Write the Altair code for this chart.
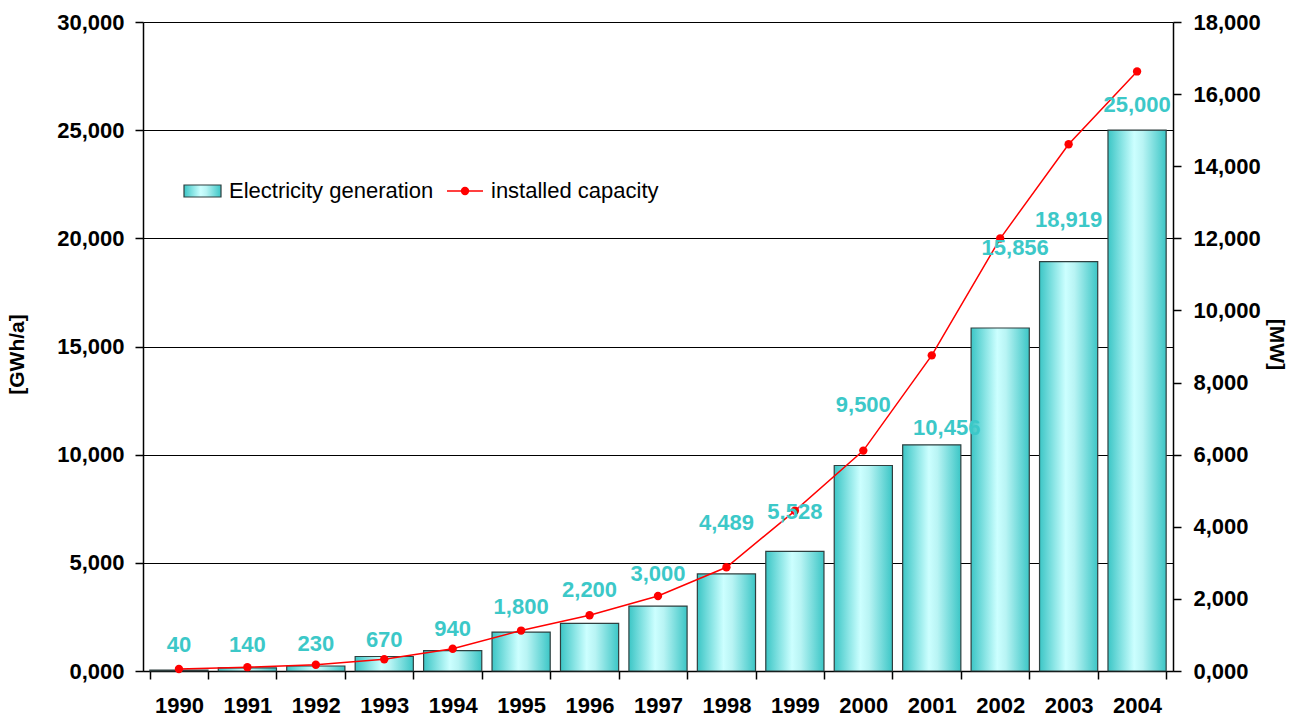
import altair as alt
import pandas as pd

years = [str(y) for y in range(1990, 2005)]
generation = [40, 140, 230, 670, 940, 1800, 2200, 3000, 4489, 5528, 9500, 10456, 15856, 18919, 25000]
capacity = [56, 106, 174, 326, 618, 1121, 1546, 2080, 2877, 4443, 6113, 8754, 11994, 14609, 16629]
label_anchor = [1200, 1200, 1250, 1430, 1940, 2960, 3740, 4480, 6840, 7350, 12300, 11230, 19550, 20850, 26160]
label_moved = [0, 0, 0, 0, 0, 0, 0, 0, 0, 0, 0, 1, 1, 0, 0]

df = pd.DataFrame({
    "year": years,
    "gen": generation,
    "cap": capacity,
    "lab": label_anchor,
    "moved": label_moved,
})

FONT = "Liberation Sans"
TEAL_TXT = "#3CC8C8"
grad = alt.LinearGradient(
    gradient="linear",
    stops=[
        alt.GradientStop(color="#3CC6C6", offset=0),
        alt.GradientStop(color="#CCFFFF", offset=0.45),
        alt.GradientStop(color="#B8F4F4", offset=0.6),
        alt.GradientStop(color="#3CC6C6", offset=1),
    ],
    x1=0, x2=1, y1=0, y2=0,
)

fmt_expr = "datum.value == 0 ? '0,000' : format(datum.value, ',')"

x_enc = alt.X(
    "year:N",
    sort=years,
    scale=alt.Scale(paddingInner=0.15, paddingOuter=0.1),
    axis=alt.Axis(
        title=None, labelAngle=0, labelFont=FONT, labelFontSize=22, labelFontWeight="bold",
        labelColor="black", tickBand="extent", tickSize=8, tickColor="black", tickWidth=1.5,
        domainColor="black", domainWidth=1.5, labelPadding=16, grid=False,
    ),
)

y_left = alt.Y(
    "gen:Q",
    scale=alt.Scale(domain=[0, 30000], nice=False),
    axis=alt.Axis(
        values=list(range(0, 30001, 5000)), labelExpr=fmt_expr,
        title="[GWh/a]", titleFont=FONT, titleFontSize=21, titleFontWeight="bold",
        titleColor="black", titleX=-126, titleY=332, titleAngle=-90,
        titleAlign="center", titleBaseline="middle",
        labelFont=FONT, labelFontSize=22, labelFontWeight="bold", labelColor="black",
        tickSize=8, tickColor="black", tickWidth=1.5, labelPadding=11,
        domainColor="black", domainWidth=1.5,
        grid=True, gridColor="black", gridWidth=1, gridOpacity=1,
    ),
)

bars = alt.Chart(df).mark_bar(
    color=grad, stroke="#2F3F3F", strokeWidth=1.2
).encode(x=x_enc, y=y_left)

y_right = alt.Y(
    "cap:Q",
    scale=alt.Scale(domain=[0, 18000], nice=False),
    axis=alt.Axis(
        orient="right", values=list(range(0, 18001, 2000)), labelExpr=fmt_expr,
        title="[MW]", titleFont=FONT, titleFontSize=21, titleFontWeight="bold",
        titleColor="black", titleX=102, titleY=322, titleAngle=90,
        titleAlign="center", titleBaseline="middle",
        labelFont=FONT, labelFontSize=22, labelFontWeight="bold", labelColor="black",
        tickSize=8, tickColor="black", tickWidth=1.5, labelPadding=12,
        domainColor="black", domainWidth=1.5, grid=False,
    ),
)

line = alt.Chart(df).mark_line(
    color="#FF0000", strokeWidth=1.5,
    point=alt.OverlayMarkDef(color="#FF0000", filled=True, size=70, opacity=1),
).encode(x=alt.X("year:N", sort=years), y=y_right)

label_enc = dict(
    x=alt.X("year:N", sort=years),
    y=alt.Y("lab:Q", scale=alt.Scale(domain=[0, 30000], nice=False), axis=None),
    text=alt.Text("gen:Q", format=","),
)
labels = alt.Chart(df).transform_filter("datum.moved == 0").mark_text(
    font=FONT, fontSize=22, fontWeight="bold", color=TEAL_TXT, baseline="middle"
).encode(**label_enc)
labels_moved = alt.Chart(df).transform_filter("datum.moved == 1").mark_text(
    font=FONT, fontSize=22, fontWeight="bold", color=TEAL_TXT, baseline="middle", dx=15
).encode(**label_enc)

one = pd.DataFrame({"a": [0]})
leg_rect = alt.Chart(one).mark_rect(color=grad, stroke="#2F3F3F", strokeWidth=1.2).encode(
    x=alt.value(41), x2=alt.value(78), y=alt.value(163), y2=alt.value(175)
)
leg_t1 = alt.Chart(one).mark_text(
    text="Electricity generation", font=FONT, fontSize=22, align="left", baseline="middle", color="black"
).encode(x=alt.value(86), y=alt.value(169))
leg_rule = alt.Chart(one).mark_rule(color="#FF0000", strokeWidth=1.5).encode(
    x=alt.value(304), x2=alt.value(340), y=alt.value(169)
)
leg_pt = alt.Chart(one).mark_point(color="#FF0000", filled=True, size=70, opacity=1).encode(
    x=alt.value(322), y=alt.value(169)
)
leg_t2 = alt.Chart(one).mark_text(
    text="installed capacity", font=FONT, fontSize=22, align="left", baseline="middle", color="black"
).encode(x=alt.value(348), y=alt.value(169))

chart = alt.layer(
    bars, line, labels, labels_moved, leg_rect, leg_t1, leg_rule, leg_pt, leg_t2
).resolve_scale(y="independent").properties(
    width=1030, height=649,
    autosize=alt.AutoSizeParams(type="none"),
    padding={"left": 143, "top": 22, "right": 121, "bottom": 46},
    background="white",
).configure_view(stroke=None)

chart.save("out.html", embed_options={"renderer": "svg", "actions": False})
